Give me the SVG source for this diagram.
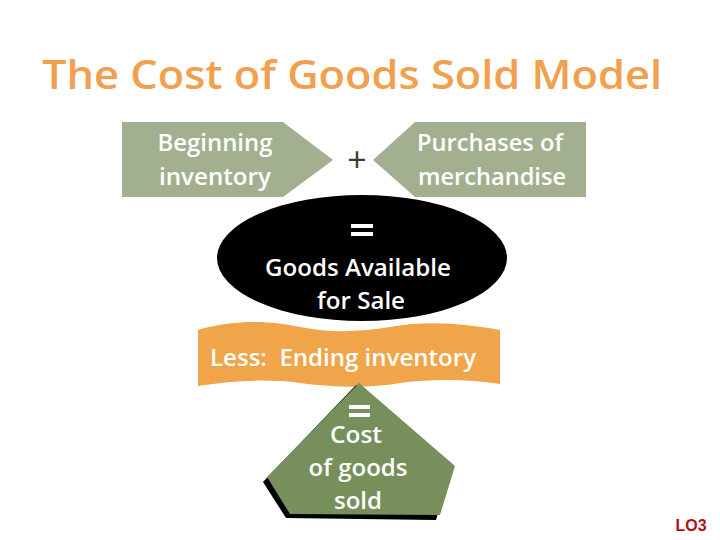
<svg xmlns="http://www.w3.org/2000/svg" width="720" height="540" viewBox="0 0 720 540">
<style>
.t{font-family:"Open Sans","Noto Sans",sans-serif;font-size:24px;font-weight:600;fill:#ffffff;text-anchor:middle;white-space:pre}
.g{fill:#a3b08f}
</style>
<rect width="720" height="540" fill="#ffffff"/>
<g id="title"><text x="352" y="89" font-family="'Open Sans','Noto Sans',sans-serif" font-size="40" font-weight="600" fill="#f0a04e" text-anchor="middle" textLength="620" lengthAdjust="spacingAndGlyphs">The Cost of Goods Sold Model</text></g>
<g id="beginning">
<polygon class="g" points="122,122 283,122 333,160 283,197 122,197"/>
<text class="t" x="215" y="151" textLength="115" lengthAdjust="spacingAndGlyphs">Beginning</text>
<text class="t" x="215" y="185" textLength="112" lengthAdjust="spacingAndGlyphs">inventory</text>
</g>
<g id="plus"><text x="357" y="172" font-family="'Open Sans',sans-serif" font-size="34" fill="#3a3d2c" text-anchor="middle">+</text></g>
<g id="purchases">
<polygon class="g" points="373,160 415,122 586,122 586,197 415,197"/>
<text class="t" x="490" y="151" textLength="146" lengthAdjust="spacingAndGlyphs">Purchases of</text>
<text class="t" x="492" y="185" textLength="148" lengthAdjust="spacingAndGlyphs">merchandise</text>
</g>
<g id="available">
<ellipse cx="362" cy="258" rx="145" ry="63" fill="#000000"/>
<rect x="351" y="224" width="22" height="4" fill="#ffffff"/>
<rect x="351" y="232" width="22" height="4" fill="#ffffff"/>
<text class="t" x="358" y="276" textLength="186" lengthAdjust="spacingAndGlyphs">Goods Available</text>
<text class="t" x="361" y="309" textLength="88" lengthAdjust="spacingAndGlyphs">for Sale</text>
</g>
<g id="ending">
<path d="M198,330 C240,318 275,322 300,327 C330,333 360,332 390,327 C430,320 465,324 500,330 L500,384 C470,380 440,378 400,383 C370,388 340,388 300,383 C270,379 235,380 198,386 Z" fill="#f0a54a"/>
<text class="t" x="343" y="366" textLength="266" lengthAdjust="spacingAndGlyphs">Less:  Ending inventory</text>
</g>
<g id="cogs">
<path d="M356,385 L263,482 L286,518 L436,520 L451,470 Z" fill="#000000"/>
<path d="M359,383 L267,477 L290,514 L440,515 L455,466 Z" fill="#778f5a"/>
<rect x="349" y="405" width="21" height="4" fill="#ffffff"/>
<rect x="349" y="413" width="21" height="4" fill="#ffffff"/>
<text class="t" x="356" y="443" textLength="52" lengthAdjust="spacingAndGlyphs">Cost</text>
<text class="t" x="358" y="476" textLength="99" lengthAdjust="spacingAndGlyphs">of goods</text>
<text class="t" x="358" y="509" textLength="48" lengthAdjust="spacingAndGlyphs">sold</text>
</g>
<g id="lo3"><text x="691" y="531" font-family="'Liberation Sans',Arial,sans-serif" font-size="16" font-weight="bold" fill="#b01015" text-anchor="middle">LO3</text></g>
</svg>
